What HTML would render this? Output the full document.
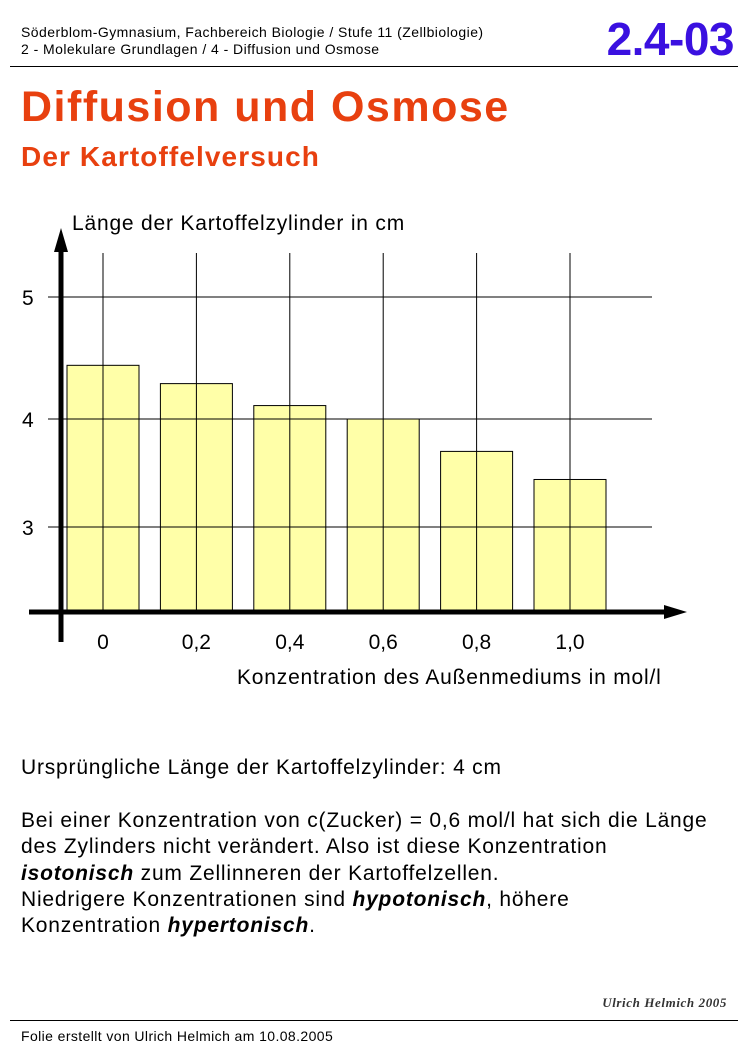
<!DOCTYPE html>
<html><head><meta charset="utf-8"><style>
body{margin:0;width:748px;height:1062px;background:#fff;position:relative;font-family:"Liberation Sans",Arial,sans-serif;overflow:hidden}
.a{position:absolute;white-space:nowrap}
</style></head><body>
<div class="a" style="left:21px;top:24px;font-size:14px;line-height:17px;letter-spacing:0.45px">Söderblom-Gymnasium, Fachbereich Biologie / Stufe 11 (Zellbiologie)<br>2 - Molekulare Grundlagen / 4 - Diffusion und Osmose</div>
<div class="a" style="right:14px;top:12px;font-size:46px;font-weight:bold;color:#3a10e0;letter-spacing:-0.5px">2.4-03</div>
<div class="a" style="left:10px;top:66px;width:728px;height:1px;background:#000"></div>
<div class="a" style="left:21px;top:83px;font-size:43px;font-weight:bold;color:#e8400f;letter-spacing:1.5px">Diffusion und Osmose</div>
<div class="a" style="left:21px;top:141px;font-size:28px;font-weight:bold;color:#e8400f;letter-spacing:1.1px">Der Kartoffelversuch</div>
<svg class="a" style="left:0;top:0" width="748" height="720" id="chart"></svg>
<div class="a" style="left:21px;top:756px;font-size:21px;letter-spacing:0.8px">Ursprüngliche Länge der Kartoffelzylinder: 4 cm</div>
<div class="a" style="left:21px;top:808px;font-size:21px;line-height:26.3px;letter-spacing:0.8px">Bei einer Konzentration von c(Zucker) = 0,6 mol/l hat sich die Länge<br>des Zylinders nicht verändert. Also ist diese Konzentration<br><b><i>isotonisch</i></b> zum Zellinneren der Kartoffelzellen.<br>Niedrigere Konzentrationen sind <b><i>hypotonisch</i></b>, höhere<br>Konzentration <b><i>hypertonisch</i></b>.</div>
<div class="a" style="right:21px;top:995px;font-size:13px;letter-spacing:0.6px;font-family:'Liberation Serif',serif;font-style:italic;font-weight:bold;color:#333">Ulrich Helmich 2005</div>
<div class="a" style="left:10px;top:1020px;width:728px;height:1px;background:#000"></div>
<div class="a" style="left:21px;top:1028px;font-size:14px;letter-spacing:0.4px">Folie erstellt von Ulrich Helmich am 10.08.2005</div>
<script>
const categories=["0","0,2","0,4","0,6","0,8","1,0"];
const lengths=[4.44,4.29,4.11,4.0,3.7,3.44];
const yTicks=[3,4,5];
const yTickLabels=["3","4","5"];
const NS="http://www.w3.org/2000/svg";
const svg=document.getElementById('chart');
const tickPx=[527,419,297];
function yScale(v){
  let i=v<4?0:1;
  const v0=yTicks[i],v1=yTicks[i+1],p0=tickPx[i],p1=tickPx[i+1];
  return p0+(v-v0)*(p1-p0)/(v1-v0);
}
function xScale(i){return 103+i*93.4;}
function mk(t,a){const e=document.createElementNS(NS,t);for(const k in a)e.setAttribute(k,a[k]);svg.appendChild(e);return e;}
const base=610;
categories.forEach((c,i)=>{
  const x=xScale(i),y=yScale(lengths[i]);
  const r=mk('rect',{x:x-36,y:y,width:72,height:base-y,fill:'#ffffa8',stroke:'#000','stroke-width':1});
  
  
});
categories.forEach((c,i)=>{
  const x=xScale(i);
  const l=mk('line',{x1:x,x2:x,y1:253,y2:612,stroke:'#000','stroke-width':1});
  
  
  const t=mk('text',{x:x,y:649,'font-size':21,'text-anchor':'middle','font-family':'Liberation Sans, sans-serif'});
  t.textContent=c;
  
  
});
yTicks.forEach((v,i)=>{
  const y=yScale(v);
  const l=mk('line',{x1:48,x2:652,y1:y,y2:y,stroke:'#000','stroke-width':1});
  
  
  const t=mk('text',{x:22,y:y+8,'font-size':21,'font-family':'Liberation Sans, sans-serif'});
  t.textContent=yTickLabels[i];
  
  
});
const ya=mk('line',{x1:61,x2:61,y1:250,y2:642,stroke:'#000','stroke-width':5});


const yh=mk('polygon',{points:'61,228 54,252 68,252',fill:'#000'});


const xa=mk('line',{x1:29,x2:668,y1:612,y2:612,stroke:'#000','stroke-width':5});


const xh=mk('polygon',{points:'687,612 664,605 664,619',fill:'#000'});


const yt=mk('text',{x:72,y:230,'font-size':21,'letter-spacing':0.8,'font-family':'Liberation Sans, sans-serif'});
yt.textContent='Länge der Kartoffelzylinder in cm';


const xt=mk('text',{x:237,y:684,'font-size':21,'letter-spacing':0.8,'font-family':'Liberation Sans, sans-serif'});
xt.textContent='Konzentration des Außenmediums in mol/l';


</script>
</body></html>
